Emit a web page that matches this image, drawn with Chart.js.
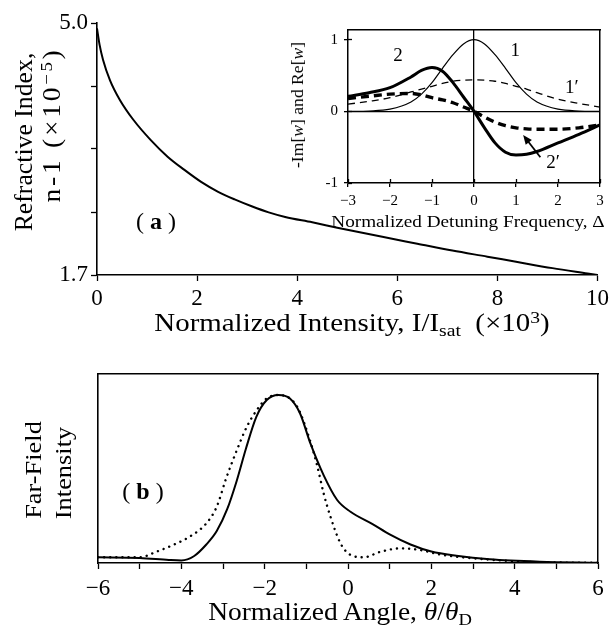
<!DOCTYPE html>
<html><head><meta charset="utf-8">
<script src="https://cdn.jsdelivr.net/npm/chart.js@4.4.1/dist/chart.umd.min.js"></script>
<style>
html,body{margin:0;padding:0;background:#fff;}
#wrap{position:relative;width:613px;height:633px;overflow:hidden;font-family:"Liberation Serif",serif;color:#000;font-weight:normal;}
canvas{position:absolute;}
.t{position:absolute;white-space:nowrap;line-height:1;font-weight:normal;}
sub{font-size:0.68em;vertical-align:-0.3em;line-height:0;}
sup{font-size:0.68em;vertical-align:0.45em;line-height:0;}
</style></head><body>
<div id="wrap">
<canvas id="ca" style="left:0;top:0" width="613" height="340"></canvas>
<canvas id="cb" style="left:0;top:340px" width="613" height="293"></canvas>
<canvas id="ci" style="left:270px;top:15px" width="343" height="220"></canvas>
<div class="t" style="left:352px;top:323px;font-size:24.5px;transform:translate(-50%,-50%) scaleX(1.18)">Normalized Intensity, I/I<sub>sat</sub>&nbsp;&nbsp;(×10<sup>3</sup>)</div>
<div class="t" style="left:23px;top:142px;font-size:25px;transform:translate(-50%,-50%) rotate(-90deg) scaleX(1.03)">Refractive Index,</div>
<div class="t" style="left:51px;top:125px;font-size:25px;letter-spacing:2.5px;transform:translate(-50%,-50%) rotate(-90deg) scaleX(1.1)">n-1 (×10<sup>−5</sup>)</div>
<div class="t" style="left:340px;top:612px;font-size:24.5px;transform:translate(-50%,-50%) scaleX(1.12)">Normalized Angle, <i>θ</i>/<i>θ</i><sub>D</sub></div>
<div class="t" style="left:33px;top:470px;font-size:24px;transform:translate(-50%,-50%) rotate(-90deg) scaleX(1.1)">Far-Field</div>
<div class="t" style="left:63px;top:473px;font-size:24px;transform:translate(-50%,-50%) rotate(-90deg) scaleX(1.1)">Intensity</div>
<div class="t" style="left:468px;top:222px;font-size:16px;transform:translate(-50%,-50%) scaleX(1.2)">Normalized Detuning Frequency, Δ</div>
<div class="t" style="left:298px;top:105px;font-size:16px;transform:translate(-50%,-50%) rotate(-90deg) scaleX(1.1)">-Im[<i>w</i>] and Re[<i>w</i>]</div>
</div>
<script>
// ---------- Panel (a): refractive index vs intensity ----------
const INTENSITY = [0, 0.05, 0.12, 0.26, 0.46, 0.73, 1.07, 1.41, 1.74, 2.08, 2.42, 2.75, 3.09, 3.43, 3.76, 4.3, 4.8, 5.7, 6.4, 7.1, 7.8, 8.4, 9.1, 9.8, 10];
const REFRACTIVE = [4.93, 4.72, 4.52, 4.25, 3.99, 3.73, 3.47, 3.25, 3.08, 2.92, 2.79, 2.69, 2.60, 2.52, 2.46, 2.39, 2.32, 2.20, 2.11, 2.02, 1.94, 1.87, 1.79, 1.72, 1.70];
const Y_TICKS_A = [1.7, 2.525, 3.35, 4.175, 5.0];
const Y_LABELS_A = ['1.7', '', '', '', '5.0'];

// ---------- Inset: -Im[w] and Re[w] vs detuning ----------
const DELTA = [-3, -2.5, -2, -1.5, -1.25, -1, -0.75, -0.5, -0.25, 0, 0.25, 0.5, 0.75, 1, 1.25, 1.5, 2, 2.5, 3];
const CURVE_1  = [0.0, 0.005, 0.03, 0.13, 0.24, 0.40, 0.60, 0.79, 0.94, 1.0, 0.94, 0.79, 0.60, 0.40, 0.24, 0.13, 0.03, 0.005, 0.0];
const CURVE_1P = [0.10, 0.14, 0.19, 0.27, 0.31, 0.35, 0.39, 0.42, 0.435, 0.44, 0.435, 0.42, 0.39, 0.35, 0.31, 0.26, 0.17, 0.11, 0.06];
const CURVE_2  = [0.21, 0.26, 0.33, 0.48, 0.57, 0.61, 0.56, 0.40, 0.20, 0.0, -0.23, -0.44, -0.57, -0.61, -0.60, -0.56, -0.44, -0.32, -0.19];
const CURVE_2P = [0.18, 0.21, 0.24, 0.25, 0.23, 0.19, 0.16, 0.12, 0.06, 0.0, -0.08, -0.15, -0.20, -0.23, -0.245, -0.25, -0.25, -0.23, -0.19];
const INSET_X_TICKS = [-3, -2, -1, 0, 1, 2, 3];
const INSET_Y_TICKS = [-1, 0, 1];
const INSET_LABELS = [
  {x: 0.98, y: 0.84, text: '1'},
  {x: -1.81, y: 0.77, text: '2'},
  {x: 2.33, y: 0.32, text: '1′'},
  {x: 1.88, y: -0.72, text: '2′'}
];
const ARROW_TAIL = {x: 1.58, y: -0.64};
const ARROW_HEAD = {x: 1.17, y: -0.33};

// ---------- Panel (b): far-field intensity vs angle ----------
const ANGLE_SOLID = [-6, -5, -4.3, -4.0, -3.7, -3.4, -3.15, -2.9, -2.67, -2.45, -2.2, -1.95, -1.67, -1.4, -1.15, -0.9, -0.58, -0.26, 0.06, 0.6, 1.0, 1.5, 2.0, 2.6, 3.4, 4.6, 6];
const FARFIELD_SOLID = [0.034, 0.03, 0.018, 0.015, 0.04, 0.11, 0.19, 0.32, 0.49, 0.68, 0.87, 0.97, 1.0, 0.98, 0.89, 0.71, 0.52, 0.375, 0.305, 0.23, 0.17, 0.11, 0.068, 0.043, 0.022, 0.008, 0.002];
const ANGLE_DOTTED = [-6, -5, -4.6, -4.2, -3.8, -3.4, -3.15, -2.93, -2.67, -2.43, -2.19, -1.95, -1.67, -1.22, -0.9, -0.74, -0.58, -0.42, -0.18, 0.06, 0.38, 0.78, 1.26, 1.74, 2.22, 3.0, 4.2, 5.8, 6];
const FARFIELD_DOTTED = [0.034, 0.034, 0.067, 0.107, 0.157, 0.236, 0.335, 0.5, 0.67, 0.81, 0.91, 0.98, 1.0, 0.93, 0.72, 0.58, 0.41, 0.275, 0.117, 0.048, 0.034, 0.067, 0.087, 0.077, 0.05, 0.028, 0.008, 0.002, 0.002];

const PANEL_LABEL_A = {x: 1.18, y: 2.38, runs: [['( ', 'normal'], ['a', 'bold'], [' )', 'normal']]};
const PANEL_LABEL_B = {x: -4.92, y: 0.42, runs: [['( ', 'normal'], ['b', 'bold'], [' )', 'normal']]};

const FONT = '"Liberation Serif", serif';
Chart.defaults.font.family = FONT;
Chart.defaults.color = '#000';

function pts(xs, ys) { return xs.map((x, i) => ({x: x, y: ys[i]})); }
function fixH(v) { return s => { s.height = v; }; }
function fixW(v) { return s => { s.width = v; }; }
function setTicks(arr) { return s => { s.ticks = arr.map(v => ({value: v})); }; }

const textPlugin = {
  id: 'richText',
  afterDatasetsDraw(chart, args, opts) {
    const ctx = chart.ctx;
    const sx = chart.scales.x, sy = chart.scales.y;
    ctx.save();
    ctx.fillStyle = '#000';
    ctx.textBaseline = 'middle';
    ctx.textAlign = 'left';
    (opts.items || []).forEach(it => {
      const runs = it.runs || [[it.text, 'normal']];
      const size = it.size || opts.size || 20;
      let total = 0;
      runs.forEach(r => { ctx.font = r[1] + ' ' + size + 'px ' + FONT; total += ctx.measureText(r[0]).width; });
      let px = sx.getPixelForValue(it.x) - total / 2;
      const py = sy.getPixelForValue(it.y);
      runs.forEach(r => { ctx.font = r[1] + ' ' + size + 'px ' + FONT; ctx.fillText(r[0], px, py); px += ctx.measureText(r[0]).width; });
    });
    if (opts.arrow) {
      const a = opts.arrow;
      const x1 = sx.getPixelForValue(a.from.x), y1 = sy.getPixelForValue(a.from.y);
      const x2 = sx.getPixelForValue(a.to.x), y2 = sy.getPixelForValue(a.to.y);
      const ang = Math.atan2(y2 - y1, x2 - x1);
      ctx.strokeStyle = '#000'; ctx.lineWidth = 1.8;
      ctx.beginPath(); ctx.moveTo(x1, y1); ctx.lineTo(x2 - 6 * Math.cos(ang), y2 - 6 * Math.sin(ang)); ctx.stroke();
      ctx.beginPath();
      ctx.moveTo(x2, y2);
      ctx.lineTo(x2 - 10 * Math.cos(ang - 0.4), y2 - 10 * Math.sin(ang - 0.4));
      ctx.lineTo(x2 - 10 * Math.cos(ang + 0.4), y2 - 10 * Math.sin(ang + 0.4));
      ctx.closePath(); ctx.fill();
    }
    ctx.restore();
  }
};

const baseOpts = {
  responsive: false, animation: false, events: [],
  plugins: {legend: {display: false}, tooltip: {enabled: false}, title: {display: false}}
};
const gridTicks = (len, w) => ({display: true, drawOnChartArea: false, drawTicks: true, tickLength: len, tickColor: '#000', tickWidth: w || 1.3, color: 'rgba(0,0,0,0)'});
const border = w => ({display: true, color: '#000', width: w});
const hiddenAxis = (pos, dim) => ({
  type: 'linear', position: pos, display: true,
  ticks: {display: false}, grid: {display: false, drawTicks: false},
  border: border(1.5), afterFit: dim === 'h' ? fixH(0) : fixW(0)
});

// Panel (a)
new Chart(document.getElementById('ca'), {
  type: 'line',
  data: {datasets: [{data: pts(INTENSITY, REFRACTIVE), borderColor: '#000', borderWidth: 2, pointRadius: 0, cubicInterpolationMode: 'monotone', fill: false}]},
  options: Object.assign({}, baseOpts, {
    layout: {padding: {top: 23, right: 15, left: 0, bottom: 0}},
    plugins: Object.assign({}, baseOpts.plugins, {richText: {size: 24, items: [PANEL_LABEL_A]}}),
    scales: {
      x: {type: 'linear', min: 0, max: 10, afterFit: fixH(65),
          ticks: {stepSize: 2, padding: 4, font: {size: 23}, maxRotation: 0, color: '#000'},
          grid: gridTicks(6), border: border(1.6)},
      y: {type: 'linear', min: 1.7, max: 5.0, afterFit: fixW(97), afterBuildTicks: setTicks(Y_TICKS_A),
          ticks: {padding: 3, font: {size: 23}, color: '#000', callback: (v, i) => Y_LABELS_A[i]},
          grid: gridTicks(6), border: border(1.6)}
    }
  }),
  plugins: [textPlugin]
});

// Panel (b)
new Chart(document.getElementById('cb'), {
  type: 'line',
  data: {datasets: [
    {data: pts(ANGLE_SOLID, FARFIELD_SOLID), borderColor: '#000', borderWidth: 2, pointRadius: 0, cubicInterpolationMode: 'monotone', fill: false},
    {data: pts(ANGLE_DOTTED, FARFIELD_DOTTED), borderColor: '#000', borderWidth: 2.4, borderDash: [0.1, 6], borderCapStyle: 'round', pointRadius: 0, cubicInterpolationMode: 'monotone', fill: false}
  ]},
  options: Object.assign({}, baseOpts, {
    layout: {padding: {top: 34, right: 15, left: 0, bottom: 0}},
    plugins: Object.assign({}, baseOpts.plugins, {richText: {size: 24, items: [PANEL_LABEL_B]}}),
    scales: {
      x: {type: 'linear', min: -6, max: 6, afterFit: fixH(70),
          ticks: {stepSize: 1, padding: 6, font: {size: 23}, maxRotation: 0, autoSkip: false, color: '#000',
                  callback: v => (v % 2 === 0 ? (v < 0 ? '−' + Math.abs(v) : String(v)) : '')},
          grid: gridTicks(6), border: border(1.6)},
      y: {type: 'linear', min: 0, max: 1.125, afterFit: fixW(98),
          ticks: {display: false}, grid: {display: false, drawTicks: false}, border: border(1.6)},
      x2: hiddenAxis('top', 'h'),
      y2: hiddenAxis('right', 'w')
    }
  }),
  plugins: [textPlugin]
});

// Inset
const zeroLine = c => (c.tick && c.tick.value === 0 ? '#000' : 'rgba(0,0,0,0)');
new Chart(document.getElementById('ci'), {
  type: 'line',
  data: {datasets: [
    {data: pts(DELTA, CURVE_1), borderColor: '#000', borderWidth: 1.2, pointRadius: 0, cubicInterpolationMode: 'monotone', fill: false},
    {data: pts(DELTA, CURVE_1P), borderColor: '#000', borderWidth: 1.3, borderDash: [7, 5], pointRadius: 0, cubicInterpolationMode: 'monotone', fill: false},
    {data: pts(DELTA, CURVE_2), borderColor: '#000', borderWidth: 3, pointRadius: 0, cubicInterpolationMode: 'monotone', fill: false},
    {data: pts(DELTA, CURVE_2P), borderColor: '#000', borderWidth: 3.4, borderDash: [8, 5], pointRadius: 0, cubicInterpolationMode: 'monotone', fill: false}
  ]},
  options: Object.assign({}, baseOpts, {
    layout: {padding: {top: 10, right: 13, left: 0, bottom: 0}},
    plugins: Object.assign({}, baseOpts.plugins, {richText: {size: 19, items: INSET_LABELS, arrow: {from: ARROW_TAIL, to: ARROW_HEAD}}}),
    scales: {
      x: {type: 'linear', min: -3, max: 3, afterFit: fixH(52), afterBuildTicks: setTicks(INSET_X_TICKS),
          ticks: {padding: 5, font: {size: 15}, maxRotation: 0, autoSkip: false, color: '#000',
                  callback: v => (v < 0 ? '−' + Math.abs(v) : String(v))},
          grid: {display: true, drawOnChartArea: true, drawTicks: true, tickLength: 4, tickColor: '#000', tickWidth: 1.3, color: zeroLine, lineWidth: 1.3},
          border: border(1.5)},
      y: {type: 'linear', min: -1, max: 1.135, afterFit: fixW(78), afterBuildTicks: setTicks(INSET_Y_TICKS),
          ticks: {padding: 6, font: {size: 15}, color: '#000', callback: v => String(v)},
          grid: {display: true, drawOnChartArea: true, drawTicks: true, tickLength: 4, tickColor: '#000', tickWidth: 1.3, color: zeroLine, lineWidth: 1.3},
          border: border(1.5)},
      xi: {type: 'linear', min: -3, max: 3, position: {y: -1}, afterFit: fixH(0), afterBuildTicks: setTicks(INSET_X_TICKS),
           ticks: {display: false}, grid: {display: true, drawOnChartArea: false, drawTicks: true, tickLength: -4, tickColor: '#000', tickWidth: 1.3, color: 'rgba(0,0,0,0)'},
           border: {display: false}},
      yi: {type: 'linear', min: -1, max: 1.135, position: {x: -3}, afterFit: fixW(0), afterBuildTicks: setTicks(INSET_Y_TICKS),
           ticks: {display: false}, grid: {display: true, drawOnChartArea: false, drawTicks: true, tickLength: -4, tickColor: '#000', tickWidth: 1.3, color: 'rgba(0,0,0,0)'},
           border: {display: false}},
      x2: hiddenAxis('top', 'h'),
      y2: hiddenAxis('right', 'w')
    }
  }),
  plugins: [textPlugin]
});
</script>
</body></html>
